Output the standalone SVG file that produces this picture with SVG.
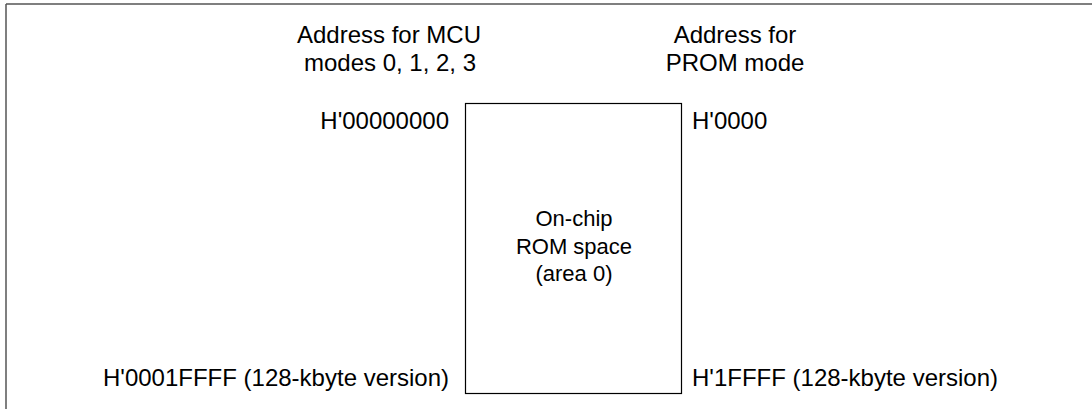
<svg xmlns="http://www.w3.org/2000/svg" width="1092" height="409" viewBox="0 0 1092 409">
<style>
text{font-family:"Liberation Sans",Arial,sans-serif;font-size:24px;fill:#000}
text.in{font-size:22px}
.frame{stroke:#555;stroke-width:1.5;fill:none}
.box{stroke:#000;stroke-width:1.2;fill:#fff}
</style>
<rect width="1092" height="409" fill="#fff"/>
<g id="frame">
<path class="frame" d="M6,4 H1092 M6,4 V409"/>
</g>
<g id="rom">
<rect class="box" x="465.5" y="103.5" width="216" height="290"/>
<text class="in" text-anchor="middle" x="574" y="226">On-chip</text>
<text class="in" text-anchor="middle" x="574" y="254">ROM space</text>
<text class="in" text-anchor="middle" x="574" y="281">(area 0)</text>
</g>
<g id="mcu-header">
<text text-anchor="middle" x="389" y="43">Address for MCU</text>
<text text-anchor="middle" x="390" y="71">modes 0, 1, 2, 3</text>
</g>
<g id="prom-header">
<text text-anchor="middle" x="735" y="43">Address for</text>
<text text-anchor="middle" x="735" y="71">PROM mode</text>
</g>
<g id="mcu-addresses">
<text text-anchor="end" x="449" y="129">H'00000000</text>
<text text-anchor="end" x="449" y="386">H'0001FFFF (128-kbyte version)</text>
</g>
<g id="prom-addresses">
<text x="692" y="129">H'0000</text>
<text x="692" y="386">H'1FFFF (128-kbyte version)</text>
</g>
<g id="connectors"/>
</svg>
